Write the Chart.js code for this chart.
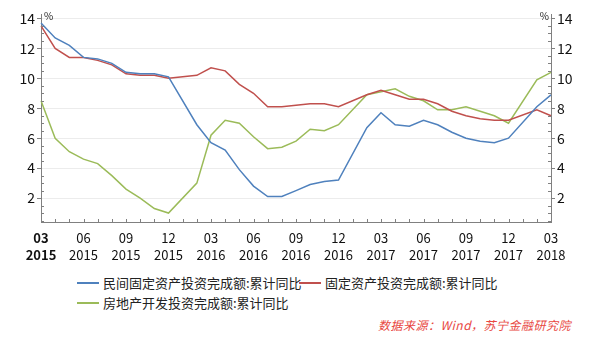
<!DOCTYPE html>
<html>
<head>
<meta charset="utf-8">
<script src="https://cdn.jsdelivr.net/npm/chart.js@4.4.1/dist/chart.umd.min.js"></script>
<style>
  body { margin: 0; background: #fff; }
  #wrap { position: relative; width: 599px; height: 339px; font-family: "Noto Sans CJK SC", sans-serif; }
  #chart1 { position: absolute; left: 0; top: 0; }
  .leg { position: absolute; font-size: 13px; color: #222; line-height: 16px; white-space: nowrap; }
  .leg i { display: inline-block; width: 22px; height: 0; border-top: 2px solid; vertical-align: middle; margin-right: 4px; position: relative; top: -1px; }
  #src { position: absolute; left: 378px; top: 316px; font-size: 12px; font-style: italic; color: #e8473f; white-space: nowrap; letter-spacing: 0.5px; }
</style>
</head>
<body>
<div id="wrap">
  <canvas id="chart1" width="599" height="270"></canvas>
  <div class="leg" style="left:77px;top:275px"><i style="border-color:#4f81bd"></i>民间固定资产投资完成额:累计同比</div>
  <div class="leg" style="left:299px;top:275px"><i style="border-color:#c0504d"></i>固定资产投资完成额:累计同比</div>
  <div class="leg" style="left:77px;top:295px"><i style="border-color:#9bbb59"></i>房地产开发投资完成额:累计同比</div>
  <div id="src">数据来源：Wind，苏宁金融研究院</div>
</div>
<script>
// months from 2015-03 to 2018-03, January has no separate figure (null)
var months = ['03','04','05','06','07','08','09','10','11','12',
              '01','02','03','04','05','06','07','08','09','10','11','12',
              '01','02','03','04','05','06','07','08','09','10','11','12',
              '01','02','03'];
var years = ['2015','2015','2015','2015','2015','2015','2015','2015','2015','2015',
             '2016','2016','2016','2016','2016','2016','2016','2016','2016','2016','2016','2016',
             '2017','2017','2017','2017','2017','2017','2017','2017','2017','2017','2017','2017',
             '2018','2018','2018'];

var privateInv = [13.7,12.7,12.2,11.4,11.3,11.0,10.4,10.3,10.3,10.1,
                  null,6.9,5.7,5.2,3.9,2.8,2.1,2.1,2.5,2.9,3.1,3.2,
                  null,6.7,7.7,6.9,6.8,7.2,6.9,6.4,6.0,5.8,5.7,6.0,
                  null,8.1,8.9];
var fixedInv = [13.5,12.0,11.4,11.4,11.2,10.9,10.3,10.2,10.2,10.0,
                null,10.2,10.7,10.5,9.6,9.0,8.1,8.1,8.2,8.3,8.3,8.1,
                null,8.9,9.2,8.9,8.6,8.6,8.3,7.8,7.5,7.3,7.2,7.2,
                null,7.9,7.5];
var estateInv = [8.5,6.0,5.1,4.6,4.3,3.5,2.6,2.0,1.3,1.0,
                 null,3.0,6.2,7.2,7.0,6.1,5.3,5.4,5.8,6.6,6.5,6.9,
                 null,8.9,9.1,9.3,8.8,8.5,7.9,7.9,8.1,7.8,7.5,7.0,
                 null,9.9,10.4];
var yTicks = [2, 4, 6, 8, 10, 12, 14];

var labels = months.map(function (m, i) { return [m, years[i]]; });
var axisColor = '#808080';
var font = "'Noto Sans CJK SC', sans-serif";

// small inward ticks + "%" marks
var minorTicks = {
    id: 'minorTicks',
    afterDraw: function (chart) {
        var c = chart.ctx, a = chart.chartArea;
        var x = chart.scales.x, y = chart.scales.y;
        c.save();
        c.strokeStyle = axisColor;
        c.lineWidth = 1;
        c.beginPath();
        for (var i = 1; i < labels.length - 1; i++) {
            var px = Math.round(x.getPixelForValue(i)) + 0.5;
            c.moveTo(px, a.bottom);
            c.lineTo(px, a.bottom - 3);
        }
        for (var v = 0.5; v < y.max; v += 0.5) {
            if (v < y.min || yTicks.indexOf(v) >= 0) continue;
            var py = Math.round(y.getPixelForValue(v)) + 0.5;
            c.moveTo(a.left, py);
            c.lineTo(a.left + 3, py);
            c.moveTo(a.right, py);
            c.lineTo(a.right - 3, py);
        }
        c.stroke();
        c.fillStyle = '#222';
        c.font = '10px ' + font;
        c.textBaseline = 'middle';
        c.textAlign = 'left';
        c.fillText('%', a.left + 3, 16);
        c.textAlign = 'right';
        c.fillText('%', a.right - 2, 16);
        c.restore();
    }
};

function yAxis(pos, w) {
    return {
        position: pos,
        min: 0.4,
        max: 14.3,
        afterBuildTicks: function (s) { s.ticks = yTicks.map(function (v) { return { value: v }; }); },
        afterFit: function (s) { s.width = w; },
        border: { color: axisColor },
        grid: {
            drawOnChartArea: pos === 'left',
            color: '#ececec',
            tickLength: 4,
            tickColor: axisColor
        },
        ticks: { padding: 2, color: '#111', font: { family: font, size: 14 } }
    };
}

new Chart(document.getElementById('chart1'), {
    type: 'line',
    data: {
        labels: labels,
        datasets: [
            { label: '民间固定资产投资完成额:累计同比', data: privateInv, borderColor: '#4f81bd' },
            { label: '固定资产投资完成额:累计同比', data: fixedInv, borderColor: '#c0504d' },
            { label: '房地产开发投资完成额:累计同比', data: estateInv, borderColor: '#9bbb59' }
        ]
    },
    options: {
        responsive: false,
        animation: false,
        spanGaps: true,
        layout: { padding: { top: 14, left: 0, right: 0, bottom: 0 } },
        elements: {
            line: { borderWidth: 1.5, tension: 0 },
            point: { radius: 0 }
        },
        plugins: { legend: { display: false }, tooltip: { enabled: false } },
        scales: {
            x: {
                afterFit: function (s) { s.height = 48; },
                border: { color: axisColor },
                grid: { drawOnChartArea: false, drawTicks: false },
                ticks: {
                    autoSkip: false,
                    maxRotation: 0,
                    padding: 8,
                    color: '#111',
                    font: function (ctx) {
                        return { family: font, size: 13, weight: ctx.index === 0 ? 'bold' : 'normal', lineHeight: 1.3 };
                    },
                    callback: function (v, i) { return i % 3 === 0 ? labels[i] : ''; }
                }
            },
            y: yAxis('left', 41),
            y2: yAxis('right', 48)
        }
    },
    plugins: [minorTicks]
});
</script>
</body>
</html>
